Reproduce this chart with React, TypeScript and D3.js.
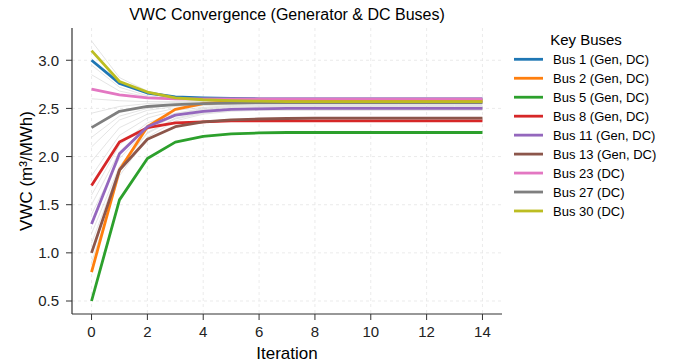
import * as d3 from 'd3';

const iterations = d3.range(0, 15);

const keyBuses = [
  'Bus 1 (Gen, DC)',
  'Bus 2 (Gen, DC)',
  'Bus 5 (Gen, DC)',
  'Bus 8 (Gen, DC)',
  'Bus 11 (Gen, DC)',
  'Bus 13 (Gen, DC)',
  'Bus 23 (DC)',
  'Bus 27 (DC)',
  'Bus 30 (DC)',
];

const keyColors = ['#1f77b4', '#ff7f0e', '#2ca02c', '#d62728', '#9467bd', '#8c564b', '#e377c2', '#7f7f7f', '#bcbd22'];

const bus1 = [3.0, 2.76, 2.66, 2.62, 2.61, 2.605, 2.6, 2.6, 2.6, 2.6, 2.6, 2.6, 2.6, 2.6, 2.6];
const bus2 = [0.8, 1.86, 2.31, 2.49, 2.55, 2.57, 2.58, 2.58, 2.58, 2.58, 2.58, 2.58, 2.58, 2.58, 2.58];
const bus5 = [0.5, 1.55, 1.98, 2.15, 2.21, 2.235, 2.245, 2.25, 2.25, 2.25, 2.25, 2.25, 2.25, 2.25, 2.25];
const bus8 = [1.7, 2.15, 2.3, 2.35, 2.36, 2.37, 2.37, 2.37, 2.37, 2.37, 2.37, 2.37, 2.37, 2.37, 2.37];
const bus11 = [1.3, 2.03, 2.31, 2.43, 2.47, 2.49, 2.495, 2.5, 2.5, 2.5, 2.5, 2.5, 2.5, 2.5, 2.5];
const bus13 = [1.0, 1.86, 2.18, 2.31, 2.36, 2.38, 2.39, 2.395, 2.4, 2.4, 2.4, 2.4, 2.4, 2.4, 2.4];
const bus23 = [2.7, 2.64, 2.61, 2.6, 2.6, 2.6, 2.6, 2.6, 2.6, 2.6, 2.6, 2.6, 2.6, 2.6, 2.6];
const bus27 = [2.3, 2.47, 2.52, 2.54, 2.55, 2.555, 2.56, 2.56, 2.56, 2.56, 2.56, 2.56, 2.56, 2.56, 2.56];
const bus30 = [3.1, 2.78, 2.67, 2.61, 2.59, 2.58, 2.575, 2.57, 2.57, 2.57, 2.57, 2.57, 2.57, 2.57, 2.57];

const keySeries = [bus1, bus2, bus5, bus8, bus11, bus13, bus23, bus27, bus30];

// remaining buses, drawn faint in the background
const otherBuses = [
  [3.2, 2.82, 2.68, 2.62, 2.6, 2.59, 2.59, 2.59, 2.59, 2.59, 2.59, 2.59, 2.59, 2.59, 2.59],
  [2.95, 2.72, 2.63, 2.6, 2.59, 2.585, 2.58, 2.58, 2.58, 2.58, 2.58, 2.58, 2.58, 2.58, 2.58],
  [2.85, 2.68, 2.62, 2.59, 2.58, 2.58, 2.58, 2.58, 2.58, 2.58, 2.58, 2.58, 2.58, 2.58, 2.58],
  [2.6, 2.58, 2.57, 2.57, 2.57, 2.57, 2.57, 2.57, 2.57, 2.57, 2.57, 2.57, 2.57, 2.57, 2.57],
  [2.45, 2.52, 2.55, 2.56, 2.565, 2.57, 2.57, 2.57, 2.57, 2.57, 2.57, 2.57, 2.57, 2.57, 2.57],
  [2.2, 2.42, 2.5, 2.54, 2.55, 2.56, 2.56, 2.56, 2.56, 2.56, 2.56, 2.56, 2.56, 2.56, 2.56],
  [2.1, 2.38, 2.48, 2.52, 2.54, 2.55, 2.55, 2.55, 2.55, 2.55, 2.55, 2.55, 2.55, 2.55, 2.55],
  [1.95, 2.3, 2.44, 2.5, 2.53, 2.54, 2.545, 2.55, 2.55, 2.55, 2.55, 2.55, 2.55, 2.55, 2.55],
  [1.8, 2.22, 2.4, 2.48, 2.51, 2.53, 2.54, 2.54, 2.54, 2.54, 2.54, 2.54, 2.54, 2.54, 2.54],
  [1.6, 2.12, 2.35, 2.45, 2.5, 2.52, 2.53, 2.53, 2.53, 2.53, 2.53, 2.53, 2.53, 2.53, 2.53],
  [1.5, 2.05, 2.32, 2.44, 2.49, 2.51, 2.52, 2.52, 2.52, 2.52, 2.52, 2.52, 2.52, 2.52, 2.52],
  [1.4, 1.98, 2.28, 2.42, 2.48, 2.5, 2.51, 2.51, 2.51, 2.51, 2.51, 2.51, 2.51, 2.51, 2.51],
  [1.2, 1.9, 2.25, 2.4, 2.46, 2.49, 2.5, 2.5, 2.5, 2.5, 2.5, 2.5, 2.5, 2.5, 2.5],
  [1.1, 1.88, 2.24, 2.39, 2.45, 2.48, 2.49, 2.49, 2.49, 2.49, 2.49, 2.49, 2.49, 2.49, 2.49],
  [0.9, 1.8, 2.2, 2.37, 2.44, 2.47, 2.48, 2.48, 2.48, 2.48, 2.48, 2.48, 2.48, 2.48, 2.48],
];

const xTickValues = [0, 2, 4, 6, 8, 10, 12, 14];
const yTickValues = [0.5, 1.0, 1.5, 2.0, 2.5, 3.0];

const title = 'VWC Convergence (Generator & DC Buses)';
const xLabel = 'Iteration';
const legendTitle = 'Key Buses';

export default function App() {
  const width = 677;
  const height = 362;
  const margin = { top: 28, right: 175, bottom: 48, left: 72 };
  const innerWidth = width - margin.left - margin.right;
  const innerHeight = height - margin.top - margin.bottom;
  const font = 'Liberation Sans, Arial, sans-serif';
  const axisColor = '#333';

  const x = d3.scaleLinear().domain([-0.7, 14.7]).range([0, innerWidth]);
  const y = d3.scaleLinear().domain([0.365, 3.335]).range([innerHeight, 0]);

  const line = d3
    .line<number>()
    .x((_, i) => x(iterations[i]))
    .y((d) => y(d));

  const legendX = margin.left + innerWidth + 12;

  return (
    <svg width={width} height={height} style={{ position: 'absolute', left: 0, top: 0, background: '#fff' }}>
      <text x={margin.left + innerWidth / 2} y={20} textAnchor="middle" fontSize={16} fontFamily={font} fill="#000">
        {title}
      </text>
      <g transform={`translate(${margin.left},${margin.top})`}>
        {/* Grid */}
        {xTickValues.map((t) => (
          <line key={`xg-${t}`} x1={x(t)} x2={x(t)} y1={0} y2={innerHeight} stroke="#e6e6e6" strokeWidth={0.8} strokeDasharray="3,3" />
        ))}
        {yTickValues.map((t) => (
          <line key={`yg-${t}`} x1={0} x2={innerWidth} y1={y(t)} y2={y(t)} stroke="#e6e6e6" strokeWidth={0.8} strokeDasharray="3,3" />
        ))}

        {/* background buses */}
        {otherBuses.map((s, i) => (
          <path key={`o-${i}`} d={line(s) || ''} fill="none" stroke="#c8c8c8" strokeOpacity={0.55} strokeWidth={0.9} />
        ))}

        {/* key buses */}
        {keySeries.map((s, i) => (
          <path key={`k-${i}`} d={line(s) || ''} fill="none" stroke={keyColors[i]} strokeWidth={2.8} strokeLinejoin="round" />
        ))}

        {/* Axes */}
        <line x1={0} x2={innerWidth} y1={innerHeight} y2={innerHeight} stroke={axisColor} strokeWidth={1.2} />
        <line x1={0} x2={0} y1={0} y2={innerHeight} stroke={axisColor} strokeWidth={1.2} />
        {xTickValues.map((t) => (
          <g key={`xt-${t}`} transform={`translate(${x(t)},${innerHeight})`}>
            <line y1={0} y2={6} stroke={axisColor} strokeWidth={1} />
            <text y={23} textAnchor="middle" fontSize={15} fontFamily={font} fill="#222">
              {t}
            </text>
          </g>
        ))}
        {yTickValues.map((t) => (
          <g key={`yt-${t}`} transform={`translate(0,${y(t)})`}>
            <line x1={-6} x2={0} stroke={axisColor} strokeWidth={1} />
            <text x={-13} dy="0.35em" textAnchor="end" fontSize={15} fontFamily={font} fill="#222">
              {t.toFixed(1)}
            </text>
          </g>
        ))}
        <text x={innerWidth / 2} y={innerHeight + 45} textAnchor="middle" fontSize={17} fontFamily={font} fill="#000">
          {xLabel}
        </text>
        <text
          transform={`translate(${-40},${innerHeight / 2}) rotate(-90)`}
          textAnchor="middle"
          fontSize={17}
          fontFamily={font}
          fill="#000"
        >
          VWC (m³/MWh)
        </text>
      </g>

      {/* Legend */}
      <g transform={`translate(${legendX},0)`}>
        <text x={72} y={45} textAnchor="middle" fontSize={15} fontFamily={font} fill="#000">
          {legendTitle}
        </text>
        {keyBuses.map((name, i) => (
          <g key={name} transform={`translate(0,${59.3 + i * 18.96})`}>
            <line x1={0} x2={29} y1={0} y2={0} stroke={keyColors[i]} strokeWidth={2.8} />
            <text x={39} dy="0.35em" fontSize={13} fontFamily={font} fill="#000">
              {name}
            </text>
          </g>
        ))}
      </g>
    </svg>
  );
}
